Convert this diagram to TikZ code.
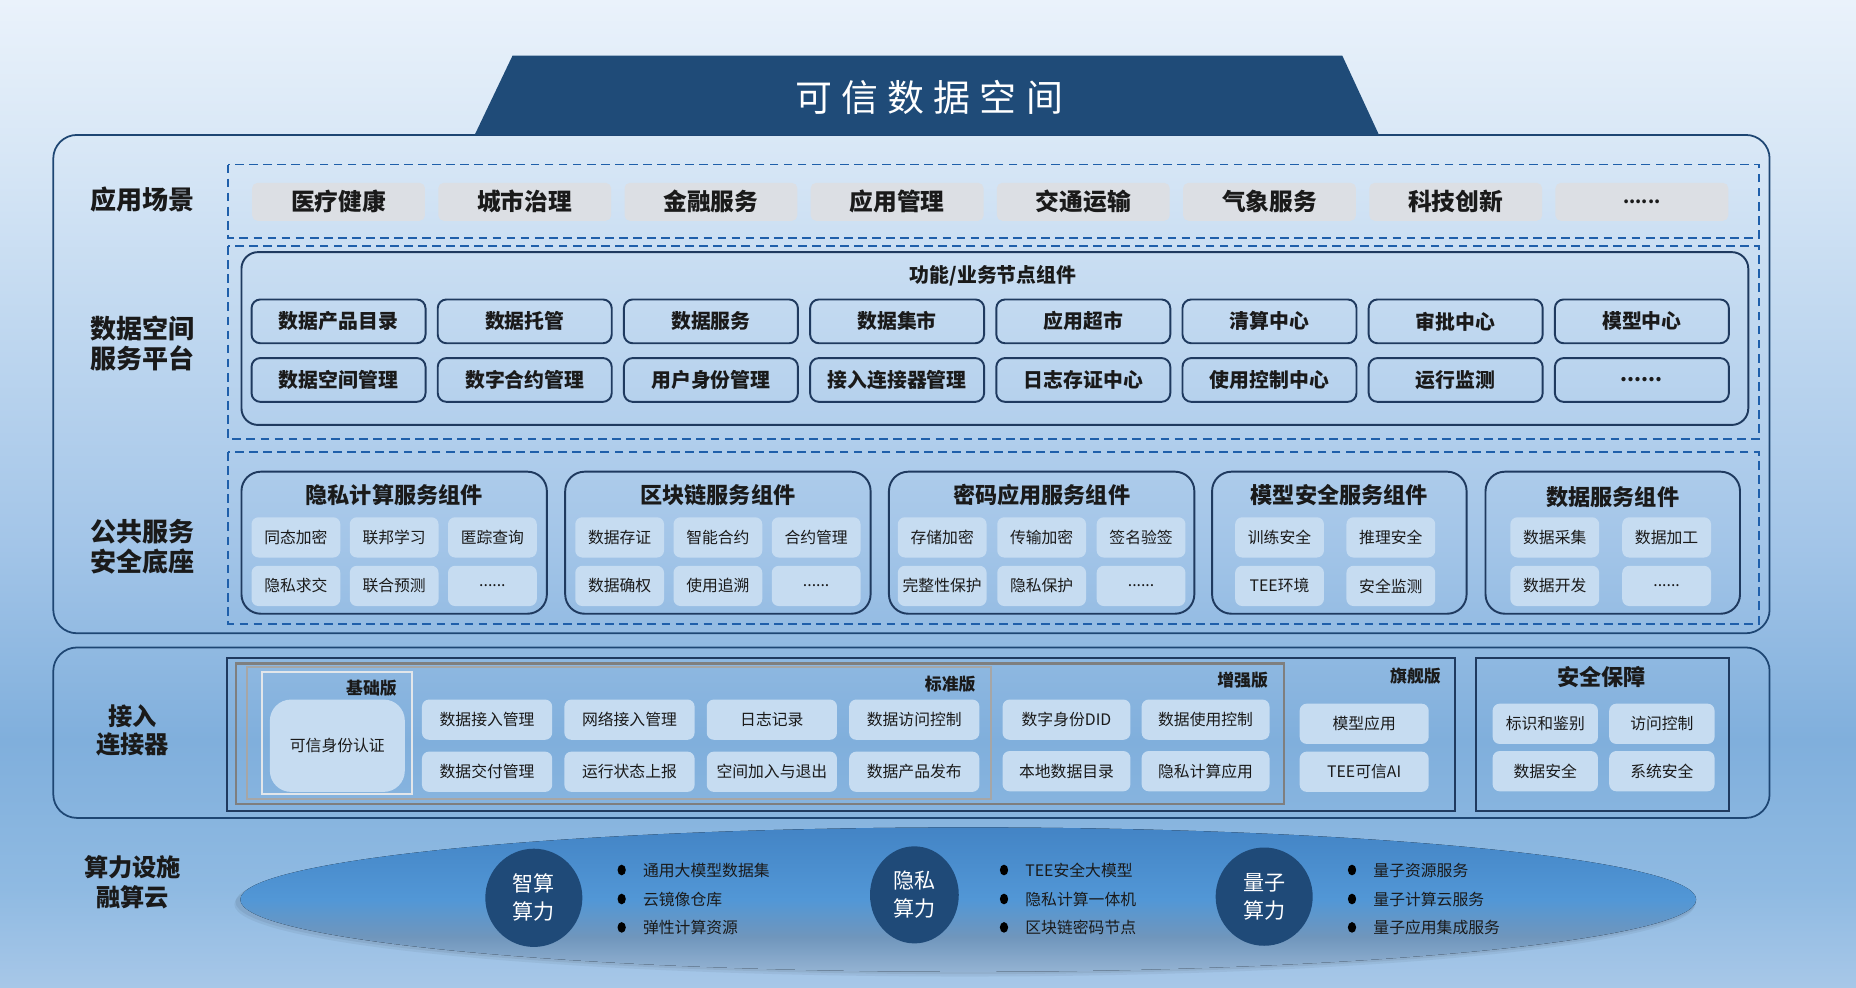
\documentclass[tikz,border=0pt]{standalone}
\usepackage{fontspec}
\setmainfont{Noto Sans CJK SC}
\usetikzlibrary{positioning,shapes.geometric}
\newlength\px
\setlength\px{0.023673cm}
\definecolor{titleblue}{HTML}{1F4B78}
\definecolor{outerline}{HTML}{1E4673}
\definecolor{boxline}{HTML}{1F3A5F}
\definecolor{dashblue}{HTML}{1F5FAA}
\definecolor{scenegray}{HTML}{DCDFE4}
\definecolor{cellblue}{HTML}{C6DCF1}
\definecolor{txt}{HTML}{1A1A1A}
\definecolor{grayA}{HTML}{7F7F7F}
\definecolor{grayB}{HTML}{A6A6A6}
\definecolor{grayC}{HTML}{E2E6EA}
\definecolor{corenavy}{HTML}{1F4A78}
\definecolor{bgA}{HTML}{A7C7E8}
\definecolor{bgB}{HTML}{8FBAE2}
\definecolor{bgC}{HTML}{80AFDC}
\definecolor{bgD}{HTML}{A3C5E8}
\definecolor{bgE}{HTML}{BDD6EF}
\definecolor{bgF}{HTML}{D8E7F6}
\definecolor{bgG}{HTML}{EAF2FB}
\definecolor{elA}{HTML}{94B3D3}
\definecolor{elB}{HTML}{7096BC}
\definecolor{elC}{HTML}{5297D6}
\definecolor{elD}{HTML}{4384C5}
\pgfdeclareverticalshading{bgshade}{100bp}{color(0bp)=(bgA); color(25bp)=(bgA); color(30bp)=(bgB); color(37.5bp)=(bgC); color(47.5bp)=(bgD); color(57.5bp)=(bgE); color(67.5bp)=(bgF); color(75bp)=(bgG); color(100bp)=(bgG)}
\pgfdeclareverticalshading{ellshade}{100bp}{color(0bp)=(elA); color(25bp)=(elA); color(37bp)=(elB); color(50bp)=(elC); color(75bp)=(elD); color(100bp)=(elD)}
\tikzset{
    outer/.style = {draw=outerline, line width=1pt, rounded corners=20\px},
    dashbox/.style = {draw=dashblue, line width=1.1pt, dash pattern=on 5pt off 3pt},
    panel/.style = {draw=boxline, line width=1.1pt, rounded corners=14\px},
    frame/.style = {line width=1.2pt},
    layer/.style = {font=\bfseries\fontsize{14.8}{17}\selectfont, align=center, text=txt},
    scene/.style = {fill=scenegray, rounded corners=3pt, minimum width=146\px,
        minimum height=32\px, font=\bfseries\fontsize{13.5}{14}\selectfont, text=txt},
    func/.style = {draw=boxline, line width=1.1pt, rounded corners=5pt, minimum width=147\px,
        minimum height=37\px, font=\bfseries\fontsize{11.3}{12}\selectfont, text=txt},
    group/.style = {draw=boxline, line width=1.1pt, rounded corners=11pt, minimum height=120\px},
    gtitle/.style = {font=\bfseries\fontsize{12.6}{13}\selectfont, text=txt},
    cell/.style = {fill=cellblue, rounded corners=4pt, minimum width=75\px,
        minimum height=34\px, inner sep=1pt, font=\fontsize{9}{10}\selectfont, text=txt},
    ccell/.style = {cell, minimum width=110\px},
    tier/.style = {font=\bfseries\fontsize{9.6}{10}\selectfont, text=txt, inner sep=1pt},
    core/.style = {ellipse, fill=corenavy, text=white, align=center, inner sep=0pt,
        font=\fontsize{12}{16}\selectfont},
    item/.style = {anchor=west, inner sep=0pt, font=\fontsize{9}{10}\selectfont, text=txt},
    bul/.style = {ellipse, fill=black, inner sep=0pt, minimum width=7\px, minimum height=9\px}
}

\begin{document}
\begin{tikzpicture}[x=0.023673cm, y=-0.023673cm, node distance=157.3\px]
    \useasboundingbox (0,0) rectangle (1568,834);
    \fill [shading=bgshade] (0,0) rectangle (1568,834);
    % outer layers
    \draw [outer] (45,114) rectangle (1495,535);
    \draw [outer] (45,547) rectangle (1495,691);
    \fill [titleblue] (401,114) -- (433,47) -- (1134,47) -- (1165,114) -- cycle;
    \node [text=white, font=\fontsize{21}{24}\selectfont\addfontfeature{LetterSpace=25}] (title) at (785,82) {可信数据空间};
    \node [layer] (lay1) at (120,169) {应用场景};
    \node [layer] (lay2) at (120,290) {数据空间\\服务平台};
    \node [layer] (lay3) at (120,462) {公共服务\\安全底座};
    \node [layer, font=\bfseries\fontsize{13.8}{16}\selectfont] (lay4) at (112,617) {接入\\连接器};
    \node [layer, font=\bfseries\fontsize{13.8}{17}\selectfont] (lay5) at (112,745) {算力设施\\融算云};
    \draw [dashbox] (193,139) rectangle (1486,201);
    \draw [dashbox] (193,208) rectangle (1486,371);
    \draw [dashbox] (193,382) rectangle (1486,527);
    % application scenarios
    \node [scene] (sc1) at (286,170.5) {医疗健康};
    \node [scene, right of=sc1] (sc2) {城市治理};
    \node [scene, right of=sc2] (sc3) {金融服务};
    \node [scene, right of=sc3] (sc4) {应用管理};
    \node [scene, right of=sc4] (sc5) {交通运输};
    \node [scene, right of=sc5] (sc6) {气象服务};
    \node [scene, right of=sc6] (sc7) {科技创新};
    \node [scene, right of=sc7, font=\bfseries\fontsize{10}{10}\selectfont] (sc8) {......};
    % function and business nodes
    \draw [panel] (204,213) rectangle (1477,359);
    \node [gtitle, font=\bfseries\fontsize{11.3}{12}\selectfont] (ftitle) at (839,233) {功能/业务节点组件};
    \node [func] (f1) at (286,271.5) {数据产品目录};
    \node [func, right of=f1] (f2) {数据托管};
    \node [func, right of=f2] (f3) {数据服务};
    \node [func, right of=f3] (f4) {数据集市};
    \node [func, right of=f4] (f5) {应用超市};
    \node [func, right of=f5] (f6) {清算中心};
    \node [func, right of=f6] (f7) {审批中心};
    \node [func, right of=f7] (f8) {模型中心};
    \node [func, below of=f1, node distance=49.5\px] (f9) {数据空间管理};
    \node [func, right of=f9] (f10) {数字合约管理};
    \node [func, right of=f10] (f11) {用户身份管理};
    \node [func, right of=f11] (f12) {接入连接器管理};
    \node [func, right of=f12] (f13) {日志存证中心};
    \node [func, right of=f13] (f14) {使用控制中心};
    \node [func, right of=f14] (f15) {运行监测};
    \node [func, right of=f15] (f16) {......};
    % public service components
    \node [group, minimum width=258\px] (g1) at (333,458.5) {};
    \node [group, minimum width=258\px] (g2) at (606.5,458.5) {};
    \node [group, minimum width=258\px] (g3) at (880,458.5) {};
    \node [group, minimum width=215\px] (g4) at (1131.5,458.5) {};
    \node [group, minimum width=215\px] (g5) at (1362.5,458.5) {};
    \node [gtitle] (t1) at (333,418) {隐私计算服务组件};
    \node [gtitle] (t2) at (606.5,418) {区块链服务组件};
    \node [gtitle] (t3) at (880,418) {密码应用服务组件};
    \node [gtitle] (t4) at (1131.5,418) {模型安全服务组件};
    \node [gtitle] (t5) at (1362.5,420) {数据服务组件};
    \node [cell] (p1) at (250,454) {同态加密};
    \node [cell, right of=p1, node distance=83\px] (p2) {联邦学习};
    \node [cell, right of=p2, node distance=83\px] (p3) {匿踪查询};
    \node [cell, below of=p1, node distance=41\px] (p4) {隐私求交};
    \node [cell, right of=p4, node distance=83\px] (p5) {联合预测};
    \node [cell, right of=p5, node distance=83\px] (p6) {......};
    \node [cell] (b1) at (523.5,454) {数据存证};
    \node [cell, right of=b1, node distance=83\px] (b2) {智能合约};
    \node [cell, right of=b2, node distance=83\px] (b3) {合约管理};
    \node [cell, below of=b1, node distance=41\px] (b4) {数据确权};
    \node [cell, right of=b4, node distance=83\px] (b5) {使用追溯};
    \node [cell, right of=b5, node distance=83\px] (b6) {......};
    \node [cell] (e1) at (796,454) {存储加密};
    \node [cell, right of=e1, node distance=84\px] (e2) {传输加密};
    \node [cell, right of=e2, node distance=84\px] (e3) {签名验签};
    \node [cell, below of=e1, node distance=41\px] (e4) {完整性保护};
    \node [cell, right of=e4, node distance=84\px] (e5) {隐私保护};
    \node [cell, right of=e5, node distance=84\px] (e6) {......};
    \node [cell] (m1) at (1081,454) {训练安全};
    \node [cell, right of=m1, node distance=94\px] (m2) {推理安全};
    \node [cell, below of=m1, node distance=41\px] (m3) {TEE环境};
    \node [cell, right of=m3, node distance=94\px] (m4) {安全监测};
    \node [cell] (d1) at (1313.5,454) {数据采集};
    \node [cell, right of=d1, node distance=94.5\px] (d2) {数据加工};
    \node [cell, below of=d1, node distance=41\px] (d3) {数据开发};
    \node [cell, right of=d3, node distance=94.5\px] (d4) {......};
    % access connector editions
    \draw [frame, draw=boxline] (192,556) rectangle (1229,685);
    \draw [frame, draw=grayA] (199.5,560.5) rectangle (1085,679);
    \draw [frame, draw=grayB] (209,563.5) rectangle (837,675);
    \draw [frame, draw=grayC] (221,568) rectangle (348,670.5);
    \draw [frame, draw=boxline] (1247,556) rectangle (1461,685);
    \node [tier, anchor=east] (v1) at (337,581) {基础版};
    \node [tier, anchor=east] (v2) at (826,578) {标准版};
    \node [tier, anchor=east] (v3) at (1073,575) {增强版};
    \node [tier, anchor=east] (v4) at (1219,571) {旗舰版};
    \node [gtitle] (sec) at (1353,572) {安全保障};
    \node [ccell, minimum width=114\px, minimum height=78\px, rounded corners=12pt] (a0) at (285,630) {可信身份认证};
    \node [ccell] (a1) at (411.5,608) {数据接入管理};
    \node [ccell, right of=a1, node distance=120.3\px] (a2) {网络接入管理};
    \node [ccell, right of=a2, node distance=120.3\px] (a3) {日志记录};
    \node [ccell, right of=a3, node distance=120.3\px] (a4) {数据访问控制};
    \node [ccell, below of=a1, node distance=44\px] (a5) {数据交付管理};
    \node [ccell, right of=a5, node distance=120.3\px] (a6) {运行状态上报};
    \node [ccell, right of=a6, node distance=120.3\px] (a7) {空间加入与退出};
    \node [ccell, right of=a7, node distance=120.3\px] (a8) {数据产品发布};
    \node [ccell, minimum width=108\px] (h1) at (901,608) {数字身份DID};
    \node [ccell, minimum width=108\px, right of=h1, node distance=117.5\px] (h2) {数据使用控制};
    \node [ccell, minimum width=108\px, below of=h1, node distance=43.5\px] (h3) {本地数据目录};
    \node [ccell, minimum width=108\px, right of=h3, node distance=117.5\px] (h4) {隐私计算应用};
    \node [ccell, minimum width=109\px] (q1) at (1152.5,611.5) {模型应用};
    \node [ccell, minimum width=109\px, below of=q1, node distance=40.5\px] (q2) {TEE可信AI};
    \node [ccell, minimum width=89\px] (k1) at (1305.5,611.5) {标识和鉴别};
    \node [ccell, minimum width=89\px, right of=k1, node distance=98.5\px] (k2) {访问控制};
    \node [ccell, minimum width=89\px, below of=k1, node distance=40\px] (k3) {数据安全};
    \node [ccell, minimum width=89\px, right of=k3, node distance=98.5\px] (k4) {系统安全};
    % computing cloud
    \fill [black, opacity=0.06] (816,762) ellipse [x radius=617\px, y radius=61\px];
    \fill [black, opacity=0.05] (815,764) ellipse [x radius=617\px, y radius=61\px];
    \fill [shading=ellshade] (818,760) ellipse [x radius=615\px, y radius=61\px];
    \node [core, minimum width=82\px, minimum height=83\px] (z1) at (451,758.5) {智算\\算力};
    \node [core, minimum width=75\px, minimum height=82\px] (z2) at (772.5,756) {隐私\\算力};
    \node [core, minimum width=82\px, minimum height=83\px] (z3) at (1068,757.5) {量子\\算力};
    \node [item] (l1) at (543,735) {通用大模型数据集};
    \node [item] (l2) at (543,759.5) {云镜像仓库};
    \node [item] (l3) at (543,783.5) {弹性计算资源};
    \node [item] (l4) at (866,735) {TEE安全大模型};
    \node [item] (l5) at (866,759.5) {隐私计算一体机};
    \node [item] (l6) at (866,783.5) {区块链密码节点};
    \node [item] (l7) at (1160,735) {量子资源服务};
    \node [item] (l8) at (1160,759.5) {量子计算云服务};
    \node [item] (l9) at (1160,783.5) {量子应用集成服务};
    \node [bul, left=14\px of l1] (o1) {};
    \node [bul, left=14\px of l2] (o2) {};
    \node [bul, left=14\px of l3] (o3) {};
    \node [bul, left=14\px of l4] (o4) {};
    \node [bul, left=14\px of l5] (o5) {};
    \node [bul, left=14\px of l6] (o6) {};
    \node [bul, left=14\px of l7] (o7) {};
    \node [bul, left=14\px of l8] (o8) {};
    \node [bul, left=14\px of l9] (o9) {};
\end{tikzpicture}
\end{document}
